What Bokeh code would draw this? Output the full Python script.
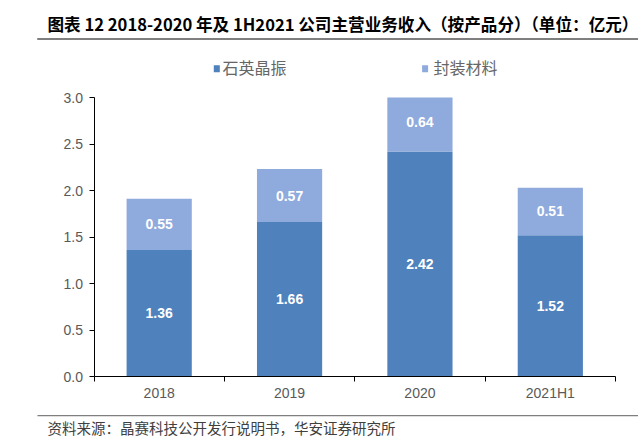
import numpy as np
from bokeh.plotting import figure
from bokeh.models import Range1d, FixedTicker, ColumnDataSource, NumeralTickFormatter
from bokeh.core.properties import value
from bokeh.embed import file_html
from bokeh.resources import INLINE

categories = ["2018", "2019", "2020", "2021H1"]
crystal = [1.36, 1.66, 2.42, 1.52]
packaging = [0.55, 0.57, 0.64, 0.51]
series_names = ["石英晶振", "封装材料"]
y_ticks = [0.0, 0.5, 1.0, 1.5, 2.0, 2.5, 3.0]
y_max = 3.0
title_text = "图表 12 2018-2020 年及 1H2021 公司主营业务收入（按产品分）（单位：亿元）"
source_text = "资料来源：晶赛科技公开发行说明书，华安证券研究所"

C1 = "#4F81BD"
C2 = "#8FAADC"
CJK = "Noto Sans CJK SC"
W, H = 638, 438
# plot-area placement on the canvas (pixels)
AX_L, AX_R, AX_T, AX_B = 93.5, 615, 97, 376

n = len(categories)
kx = (AX_R - AX_L) / n          # pixels per category
ky = (AX_B - AX_T) / y_max      # pixels per unit value


def dx(px):  # canvas pixel -> data x (header/footer layout only)
    return (px - AX_L) / kx


def dy(py):  # canvas pixel -> data y (header/footer layout only)
    return (AX_B - py) / ky


p = figure(width=W, height=H, output_backend="svg", toolbar_location=None,
           x_range=Range1d(dx(0), dx(W)), y_range=Range1d(dy(H), dy(0)),
           min_border=0, min_border_left=0, min_border_right=0,
           min_border_top=0, min_border_bottom=0)
p.outline_line_color = None
p.xgrid.visible = False
p.ygrid.visible = False
p.background_fill_color = "white"
p.border_fill_color = "white"

xs = np.arange(n) + 0.5
crystal = np.array(crystal)
packaging = np.array(packaging)
tops = crystal + packaging

src = ColumnDataSource(dict(x=xs, c=crystal, t=np.minimum(tops, y_max),
                            lc=[f"{v:.2f}" for v in crystal],
                            lp=[f"{v:.2f}" for v in packaging],
                            yc=crystal / 2, yp=crystal + packaging / 2))
p.vbar(x="x", bottom=0, top="c", width=0.5, fill_color=C1, line_color=None, source=src)
p.vbar(x="x", bottom="c", top="t", width=0.5, fill_color=C2, line_color=None, source=src)
for yk, lk in (("yc", "lc"), ("yp", "lp")):
    p.text(x="x", y=yk, text=lk, source=src, text_align="center", text_baseline="middle",
           text_color="white", text_font=value("Liberation Sans"), text_font_style="bold",
           text_font_size="14px")

# axes fixed at the data origin
xa = p.xaxis[0]
xa.fixed_location = 0
xa.bounds = (0, n)
xa.ticker = FixedTicker(ticks=list(xs), minor_ticks=list(range(n + 1)))
xa.major_label_overrides = {float(x): c for x, c in zip(xs, categories)}
xa.major_tick_out = 0
xa.major_tick_in = 0
xa.minor_tick_out = 5
xa.minor_tick_in = 0
xa.minor_tick_line_color = "black"
xa.axis_line_color = "black"
xa.major_label_standoff = 3
xa.major_label_text_font = "Liberation Sans"
xa.major_label_text_font_size = "14px"
xa.major_label_text_color = "#595959"

ya = p.yaxis[0]
ya.fixed_location = 0
ya.bounds = (0, y_max)
ya.ticker = FixedTicker(ticks=y_ticks)
ya.formatter = NumeralTickFormatter(format="0.0")
ya.major_tick_out = 5
ya.major_tick_in = 0
ya.minor_tick_out = 0
ya.minor_tick_in = 0
ya.major_tick_line_color = "black"
ya.axis_line_color = "black"
ya.major_label_standoff = 6
ya.major_label_text_font = "Liberation Sans"
ya.major_label_text_font_size = "14px"
ya.major_label_text_color = "#595959"

rule_l, rule_r = dx(37), dx(W)

# header: rule, title, legend
p.rect(x=[dx((37 + W) / 2)], y=[dy(38.5)], width=W - 37, height=2,
       width_units="screen", height_units="screen", fill_color="#7F7F7F", line_color=None)
p.line(x=[rule_l, rule_r], y=[dy(38.5)] * 2, line_color="#7F7F7F", line_width=2)
p.text(x=[dx(47)], y=[dy(23.5)], text=[title_text], text_font=value(CJK), text_font_style="bold",
       text_font_size="16.6px", text_color="black", text_baseline="middle")
p.rect(x=[dx(216.3), dx(424.6)], y=[dy(68.3)] * 2, width=6, height=7,
       width_units="screen", height_units="screen", fill_color=[C1, C2], line_color=None)
p.text(x=[dx(222), dx(433)], y=[dy(66.8)] * 2, text=series_names, text_font=value(CJK),
       text_font_size="16px", text_color="#666666", text_baseline="middle")

# footer
p.line(x=[rule_l, rule_r], y=[dy(415.2)] * 2, line_color="#7F7F7F", line_width=1.3)
p.text(x=[dx(47)], y=[dy(426.8)], text=[source_text], text_font=value(CJK),
       text_font_size="14.5px", text_color="#404040", text_baseline="middle")

open("out.html", "w").write(file_html(p, INLINE))
